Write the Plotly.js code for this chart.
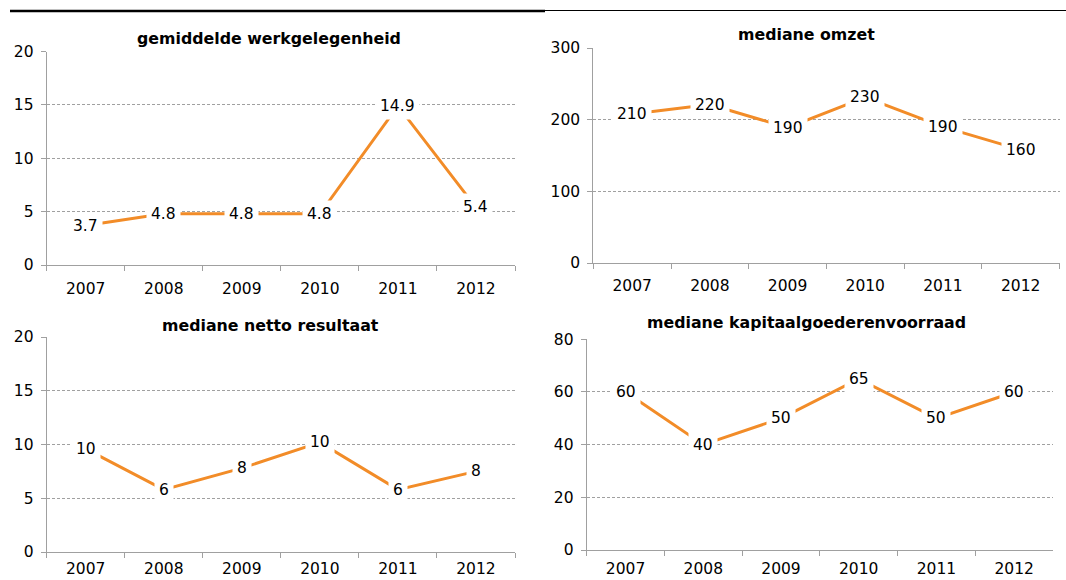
<!DOCTYPE html>
<html>
<head>
<meta charset="utf-8">
<script src="https://cdn.plot.ly/plotly-3.0.1.min.js"></script>
<style>html,body{margin:0;padding:0;background:#fff;}#chart{width:1066px;height:580px;}</style>
</head>
<body>
<div id="chart"></div>
<script>
// ---- data ----
var years = ['2007', '2008', '2009', '2010', '2011', '2012'];

var werkTitle = 'gemiddelde werkgelegenheid';
var werkValues = [3.7, 4.8, 4.8, 4.8, 14.9, 5.4];
var werkLabels = ['3.7', '4.8', '4.8', '4.8', '14.9', '5.4'];

var omzetTitle = 'mediane omzet';
var omzetValues = [208, 221, 189, 231, 190, 158];
var omzetLabels = ['210', '220', '190', '230', '190', '160'];

var nettoTitle = 'mediane netto resultaat';
var nettoValues = [9.6, 5.8, 7.8, 10.2, 5.8, 7.5];
var nettoLabels = ['10', '6', '8', '10', '6', '8'];

var kapTitle = 'mediane kapitaalgoederenvoorraad';
var kapValues = [60, 40, 50, 65, 50, 60];
var kapLabels = ['60', '40', '50', '65', '50', '60'];

// ---- layout helpers ----
var W = 1066, H = 580;
var FONT = 'DejaVu Sans, Verdana, sans-serif';
var ORANGE = '#F28C28';
var GRID = '#a0a0a0';
var AXIS = '#a0a0a0';
var FS = 15.5;

function px(x) { return x / W; }
function py(y) { return 1 - y / H; }

var panels = [
  {title: werkTitle, vals: werkValues, labs: werkLabels, range: [0, 20], dtick: 5,
   x0: 46.7, x1: 515, yTop: 51.5, yBot: 265, titleX: 269, titleY: 38, xStand: 9},
  {title: omzetTitle, vals: omzetValues, labs: omzetLabels, range: [0, 300], dtick: 100,
   x0: 593.3, x1: 1059.5, yTop: 48, yBot: 263, titleX: 806.7, titleY: 35, xStand: 8},
  {title: nettoTitle, vals: nettoValues, labs: nettoLabels, range: [0, 20], dtick: 5,
   x0: 46.7, x1: 515, yTop: 337, yBot: 552, titleX: 270, titleY: 325, xStand: 2},
  {title: kapTitle, vals: kapValues, labs: kapLabels, range: [0, 80], dtick: 20,
   x0: 586.7, x1: 1053, yTop: 339.3, yBot: 550, titleX: 806.7, titleY: 323, xStand: 4}
];

var data = [];
var layout = {
  width: W, height: H,
  margin: {l: 0, r: 0, t: 0, b: 0},
  paper_bgcolor: '#ffffff',
  plot_bgcolor: 'rgba(0,0,0,0)',
  showlegend: false,
  font: {family: FONT, size: FS, color: '#000000'},
  annotations: [],
  shapes: [
    {type: 'line', xref: 'paper', yref: 'paper', x0: px(10), x1: px(545), y0: py(11), y1: py(11),
     line: {color: '#000000', width: 2.5}},
    {type: 'line', xref: 'paper', yref: 'paper', x0: px(545), x1: px(1066), y0: py(10.5), y1: py(10.5),
     line: {color: '#000000', width: 1}}
  ]
};

panels.forEach(function (p, i) {
  var n = i + 1;
  var xa = 'xaxis' + (n === 1 ? '' : n);
  var ya = 'yaxis' + (n === 1 ? '' : n);
  var xr = 'x' + (n === 1 ? '' : n);
  var yr = 'y' + (n === 1 ? '' : n);

  data.push({
    type: 'scatter', mode: 'lines',
    x: years, y: p.vals,
    xaxis: xr, yaxis: yr,
    line: {color: ORANGE, width: 3},
    hoverinfo: 'skip'
  });

  layout[xa] = {
    domain: [px(p.x0), px(p.x1)],
    anchor: yr,
    type: 'category',
    range: [-0.5, 5.5],
    tickson: 'boundaries',
    ticks: 'outside', ticklen: 5, tickcolor: AXIS, tickwidth: 1,
    showline: true, linecolor: AXIS, linewidth: 1,
    showgrid: false, zeroline: false,
    tickfont: {family: FONT, size: FS, color: '#000'},
    ticklabelstandoff: p.xStand,
    fixedrange: true
  };
  layout[ya] = {
    domain: [py(p.yBot), py(p.yTop)],
    anchor: xr,
    range: p.range, dtick: p.dtick, tick0: 0,
    ticks: 'outside', ticklen: 5, tickcolor: AXIS, tickwidth: 1,
    showline: true, linecolor: AXIS, linewidth: 1,
    showgrid: true, gridcolor: GRID, griddash: '3px,2px', gridwidth: 1,
    zeroline: false,
    tickfont: {family: FONT, size: FS, color: '#000'},
    ticklabelstandoff: 4,
    fixedrange: true
  };

  // panel title
  layout.annotations.push({
    xref: 'paper', yref: 'paper', x: px(p.titleX), y: py(p.titleY),
    xanchor: 'center', yanchor: 'middle', showarrow: false,
    text: '<b>' + p.title + '</b>',
    font: {family: FONT, size: 15.8, color: '#000'}
  });

  // data labels (white boxes mask the line as in the original);
  // category axis positions are given as the category's serial number
  p.vals.forEach(function (v, k) {
    layout.annotations.push({
      xref: xr, yref: yr, x: k, y: v,
      xanchor: 'center', yanchor: 'middle', showarrow: false,
      text: p.labs[k], bgcolor: '#ffffff', borderpad: 4,
      font: {family: FONT, size: FS, color: '#000'}
    });
  });
});

Plotly.newPlot('chart', data, layout, {displayModeBar: false, staticPlot: true});
</script>
</body>
</html>
